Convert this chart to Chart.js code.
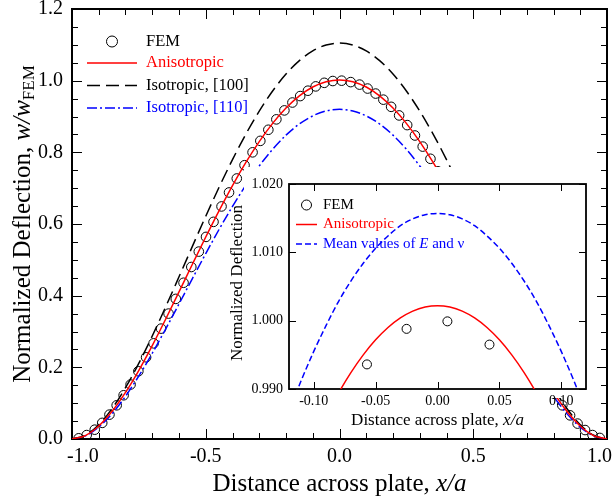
<!DOCTYPE html>
<html><head><meta charset="utf-8">
<script src="https://cdn.jsdelivr.net/npm/chart.js@4/dist/chart.umd.min.js"></script>
<style>
html,body{margin:0;padding:0;background:#fff;}
#wrap{position:relative;width:613px;height:499px;overflow:hidden;}
#wrap canvas{position:absolute;left:0;top:0;}
</style></head><body>
<div id="wrap"><canvas id="main" width="613" height="499"></canvas><canvas id="inset" width="613" height="499"></canvas></div>
<script>
// ---------- data ----------
const femX = [-0.975,-0.945,-0.915,-0.887,-0.860,-0.833,-0.807,-0.781,-0.752,-0.723,-0.695,-0.667,-0.639,-0.612,-0.583,-0.554,-0.526,-0.499,-0.471,-0.441,-0.413,-0.384,-0.355,-0.325,-0.296,-0.266,-0.236,-0.206,-0.176,-0.147,-0.118,-0.089,-0.057,-0.025,0.008,0.042,0.075,0.105,0.135,0.164,0.193,0.223,0.253,0.282,0.311,0.340,0.368,0.397,0.426,0.455,0.484,0.513,0.542,0.571,0.600,0.629,0.658,0.687,0.716,0.745,0.774,0.803,0.833,0.862,0.890,0.918,0.946,0.973];
const femY = [0.002,0.011,0.026,0.045,0.068,0.094,0.122,0.152,0.189,0.228,0.267,0.308,0.350,0.391,0.436,0.480,0.523,0.564,0.606,0.649,0.688,0.727,0.764,0.800,0.832,0.863,0.892,0.917,0.939,0.957,0.972,0.984,0.994,0.999,1.000,0.996,0.989,0.978,0.964,0.947,0.927,0.903,0.876,0.847,0.816,0.782,0.747,0.710,0.670,0.629,0.586,0.543,0.499,0.454,0.410,0.365,0.322,0.279,0.238,0.198,0.161,0.126,0.094,0.066,0.043,0.025,0.011,0.003];

const lineX = [-1.00,-0.95,-0.90,-0.85,-0.80,-0.75,-0.70,-0.65,-0.60,-0.55,-0.50,-0.45,-0.40,-0.35,-0.30,-0.25,-0.20,-0.15,-0.10,-0.05,0.00,0.05,0.10,0.15,0.20,0.25,0.30,0.35,0.40,0.45,0.50,0.55,0.60,0.65,0.70,0.75,0.80,0.85,0.90,0.95,1.00];
const anisoY = [0,0.0095,0.0362,0.0772,0.1299,0.1918,0.2607,0.3342,0.4105,0.4876,0.5637,0.6374,0.7072,0.7717,0.8299,0.8808,0.9236,0.9576,0.9823,0.9972,1.0022,0.9972,0.9823,0.9576,0.9236,0.8808,0.8299,0.7717,0.7072,0.6374,0.5637,0.4876,0.4105,0.3342,0.2607,0.1918,0.1299,0.0772,0.0362,0.0095,0];
const iso100Y = [0,0.0105,0.0399,0.0851,0.1432,0.2115,0.2874,0.3685,0.4526,0.5376,0.6216,0.7028,0.7797,0.8509,0.9151,0.9712,1.0184,1.0558,1.0830,1.0995,1.1050,1.0995,1.0830,1.0558,1.0184,0.9712,0.9151,0.8509,0.7797,0.7028,0.6216,0.5376,0.4526,0.3685,0.2874,0.2115,0.1432,0.0851,0.0399,0.0105,0];
const iso110Y = [0,0.0087,0.0332,0.0708,0.1192,0.1761,0.2393,0.3068,0.3768,0.4476,0.5175,0.5851,0.6492,0.7084,0.7619,0.8086,0.8479,0.8791,0.9017,0.9154,0.9200,0.9154,0.9017,0.8791,0.8479,0.8086,0.7619,0.7084,0.6492,0.5851,0.5175,0.4476,0.3768,0.3068,0.2393,0.1761,0.1192,0.0708,0.0332,0.0087,0];

const mainXTicks = [-1.0,-0.5,0.0,0.5,1.0];
const mainXLabels = ['-1.0','-0.5','0.0','0.5','1.0'];
const mainYTicks = [0.0,0.2,0.4,0.6,0.8,1.0,1.2];
const mainYLabels = ['0.0','0.2','0.4','0.6','0.8','1.0','1.2'];

const insetFemX = [-0.057,-0.025,0.008,0.042];
const insetFemY = [0.9936,0.9988,0.9999,0.9965];
const insetX = [-0.12,-0.11,-0.10,-0.09,-0.08,-0.07,-0.06,-0.05,-0.04,-0.03,-0.02,-0.01,0.00,0.01,0.02,0.03,0.04,0.05,0.06,0.07,0.08,0.09,0.10,0.11,0.12];
const insetAnisoY = [0.9736,0.9781,0.9823,0.9860,0.9894,0.9924,0.9950,0.9972,0.9990,1.0004,1.0014,1.0020,1.0022,1.0020,1.0014,1.0004,0.9990,0.9972,0.9950,0.9924,0.9894,0.9860,0.9823,0.9781,0.9736];
const insetMeanY = [0.9867,0.9913,0.9955,0.9993,1.0028,1.0058,1.0084,1.0106,1.0124,1.0139,1.0149,1.0155,1.0157,1.0155,1.0149,1.0139,1.0124,1.0106,1.0084,1.0058,1.0028,0.9993,0.9955,0.9913,0.9867];

const insetXTicks = [-0.10,-0.05,0.00,0.05,0.10];
const insetXLabels = ['-0.10','-0.05','0.00','0.05','0.10'];
const insetYTicks = [0.990,1.000,1.010,1.020];
const insetYLabels = ['0.990','1.000','1.010','1.020'];

// ---------- helpers ----------
const SERIF = '"Liberation Serif","Times New Roman",serif';
const RED = '#ff0000', BLUE = '#0000ff', BLACK = '#000000';
function pts(xs, ys){ return xs.map((x,i)=>({x:x, y:ys[i]})); }
function drawRich(ctx, parts, x, y, align){
  let w = 0;
  parts.forEach(p=>{ ctx.font = p.font; p.w = ctx.measureText(p.t).width; w += p.w; });
  let cx = align==='center' ? x - w/2 : (align==='right' ? x - w : x);
  ctx.textAlign = 'left';
  parts.forEach(p=>{ ctx.font = p.font; ctx.fillStyle = p.color || BLACK; ctx.fillText(p.t, cx, y + (p.dy||0)); cx += p.w; });
}
function line(ctx,x1,y1,x2,y2){ ctx.beginPath(); ctx.moveTo(x1,y1); ctx.lineTo(x2,y2); ctx.stroke(); }

// ---------- main chart ----------
const mainDeco = {
  id: 'mainDeco',
  beforeDatasetsDraw(chart){
    const ctx = chart.ctx, a = chart.chartArea, xs = chart.scales.x, ys = chart.scales.y;
    ctx.save();
    ctx.strokeStyle = BLACK; ctx.lineWidth = 1;
    for (let k=-10;k<=10;k++){
      const px = Math.round(xs.getPixelForValue(k/10)) + 0.5;
      const L = (k%5===0) ? 10 : 6;
      line(ctx, px, a.bottom, px, a.bottom - L);
      line(ctx, px, a.top, px, a.top + L);
    }
    for (let k=0;k<=24;k++){
      const py = Math.round(ys.getPixelForValue(k*0.05)) + 0.5;
      const L = (k%4===0) ? 10 : 6;
      line(ctx, a.left, py, a.left + L, py);
      line(ctx, a.right, py, a.right - L, py);
    }
    ctx.lineWidth = 2;
    ctx.strokeRect(a.left, a.top, a.right - a.left, a.bottom - a.top);
    ctx.restore();
  },
  afterDraw(chart){
    const ctx = chart.ctx, a = chart.chartArea, xs = chart.scales.x, ys = chart.scales.y;
    ctx.save();
    ctx.fillStyle = BLACK;
    ctx.font = '20px ' + SERIF;
    ctx.textBaseline = 'alphabetic';
    mainXTicks.forEach((v,i)=>{
      const px = xs.getPixelForValue(v);
      const w = ctx.measureText(mainXLabels[i]).width;
      let left = px - w/2;
      if (left < 67) left = 67;
      if (left + w > 612) left = 612 - w;
      ctx.textAlign = 'left';
      ctx.fillText(mainXLabels[i], left, 462);
    });
    ctx.textBaseline = 'middle';
    ctx.textAlign = 'right';
    mainYTicks.forEach((v,i)=>{
      ctx.fillText(mainYLabels[i], 63, ys.getPixelForValue(v));
    });
    // axis titles
    ctx.textBaseline = 'alphabetic';
    drawRich(ctx, [
      {t:'Distance across plate, ', font:'25px ' + SERIF},
      {t:'x/a', font:'italic 25px ' + SERIF}
    ], (a.left + a.right)/2, 491, 'center');
    ctx.save();
    ctx.translate(30, (a.top + a.bottom)/2);
    ctx.rotate(-Math.PI/2);
    drawRich(ctx, [
      {t:'Normalized Deflection, ', font:'25px ' + SERIF},
      {t:'w/w', font:'italic 25px ' + SERIF},
      {t:'FEM', font:'17px ' + SERIF, dy:4}
    ], 0, 0, 'center');
    ctx.restore();
    // legend
    ctx.textBaseline = 'middle';
    const lf = '16.5px ' + SERIF;
    ctx.lineWidth = 1; ctx.strokeStyle = BLACK;
    ctx.beginPath(); ctx.arc(112, 41.5, 5.5, 0, Math.PI*2); ctx.stroke();
    drawRich(ctx, [{t:'FEM', font:lf, color:BLACK}], 146, 41.5, 'left');
    ctx.lineWidth = 1.5;
    ctx.strokeStyle = RED; ctx.setLineDash([]);
    line(ctx, 87, 63, 137, 63);
    drawRich(ctx, [{t:'Anisotropic', font:lf, color:RED}], 146, 63, 'left');
    ctx.strokeStyle = BLACK; ctx.setLineDash([13,6]);
    line(ctx, 87, 85.5, 137, 85.5);
    drawRich(ctx, [{t:'Isotropic, [100]', font:lf, color:BLACK}], 146, 85.5, 'left');
    ctx.strokeStyle = BLUE; ctx.setLineDash([10,3,2,3]);
    line(ctx, 87, 108, 137, 108);
    drawRich(ctx, [{t:'Isotropic, [110]', font:lf, color:BLUE}], 146, 108, 'left');
    ctx.restore();
  }
};

new Chart(document.getElementById('main'), {
  type: 'scatter',
  data: { datasets: [
    { label:'FEM', data: pts(femX, femY), showLine:false, pointStyle:'circle', pointRadius:4.8, pointHoverRadius:4.8,
      pointBorderColor:BLACK, pointBackgroundColor:'rgba(0,0,0,0)', pointBorderWidth:1, order:4 },
    { label:'Anisotropic', data: pts(lineX, anisoY), showLine:true, borderColor:RED, borderWidth:1.5,
      pointRadius:0, pointHoverRadius:0, cubicInterpolationMode:'monotone', order:1 },
    { label:'Isotropic, [100]', data: pts(lineX, iso100Y), showLine:true, borderColor:BLACK, borderWidth:1.5,
      borderDash:[13,6], pointRadius:0, pointHoverRadius:0, cubicInterpolationMode:'monotone', order:2 },
    { label:'Isotropic, [110]', data: pts(lineX, iso110Y), showLine:true, borderColor:BLUE, borderWidth:1.5,
      borderDash:[10,3,2,3], pointRadius:0, pointHoverRadius:0, cubicInterpolationMode:'monotone', order:3 }
  ]},
  options: {
    responsive:false, animation:false, devicePixelRatio:1, events:[],
    layout:{ padding:{ left:72, right:6, top:9, bottom:60 } },
    plugins:{ legend:{display:false}, tooltip:{enabled:false} },
    scales:{
      x:{ type:'linear', min:-1, max:1, display:false },
      y:{ type:'linear', min:0, max:1.2, display:false }
    }
  },
  plugins:[mainDeco]
});

// ---------- inset chart ----------
const insetDeco = {
  id:'insetDeco',
  beforeDraw(chart){
    const ctx = chart.ctx;
    ctx.save();
    ctx.fillStyle = '#ffffff';
    ctx.fillRect(244, 167, 346, 231);
    ctx.restore();
  },
  beforeDatasetsDraw(chart){
    const ctx = chart.ctx, a = chart.chartArea, xs = chart.scales.x, ys = chart.scales.y;
    ctx.save();
    ctx.strokeStyle = BLACK; ctx.lineWidth = 1;
    insetXTicks.forEach(v=>{
      const px = Math.round(xs.getPixelForValue(v)) + 0.5;
      line(ctx, px, a.bottom, px, a.bottom - 7);
      line(ctx, px, a.top, px, a.top + 7);
    });
    insetYTicks.forEach(v=>{
      const py = Math.round(ys.getPixelForValue(v)) + 0.5;
      line(ctx, a.left, py, a.left + 7, py);
      line(ctx, a.right, py, a.right - 7, py);
    });
    ctx.lineWidth = 1.8;
    ctx.strokeRect(a.left, a.top, a.right - a.left, a.bottom - a.top);
    ctx.restore();
  },
  afterDraw(chart){
    const ctx = chart.ctx, a = chart.chartArea, xs = chart.scales.x, ys = chart.scales.y;
    ctx.save();
    ctx.fillStyle = BLACK;
    ctx.font = '14px ' + SERIF;
    ctx.textBaseline = 'alphabetic'; ctx.textAlign = 'center';
    insetXTicks.forEach((v,i)=>{ ctx.fillText(insetXLabels[i], xs.getPixelForValue(v), 405); });
    ctx.textBaseline = 'middle'; ctx.textAlign = 'right';
    insetYTicks.forEach((v,i)=>{ ctx.fillText(insetYLabels[i], 283, ys.getPixelForValue(v)); });
    ctx.textBaseline = 'alphabetic';
    drawRich(ctx, [
      {t:'Distance across plate, ', font:'17px ' + SERIF},
      {t:'x/a', font:'italic 17px ' + SERIF}
    ], (a.left + a.right)/2, 425, 'center');
    ctx.save();
    ctx.translate(241.5, 283);
    ctx.rotate(-Math.PI/2);
    drawRich(ctx, [{t:'Normalized Deflection', font:'17px ' + SERIF}], 0, 0, 'center');
    ctx.restore();
    // legend
    const lf = '15px ' + SERIF;
    ctx.textBaseline = 'middle';
    ctx.lineWidth = 1; ctx.strokeStyle = BLACK;
    ctx.beginPath(); ctx.arc(306.5, 205, 5, 0, Math.PI*2); ctx.stroke();
    drawRich(ctx, [{t:'FEM', font:lf}], 323, 205, 'left');
    ctx.lineWidth = 1.5; ctx.strokeStyle = RED;
    line(ctx, 296, 224.5, 317, 224.5);
    drawRich(ctx, [{t:'Anisotropic', font:lf, color:RED}], 323, 224.5, 'left');
    ctx.strokeStyle = BLUE; ctx.setLineDash([6,3]);
    line(ctx, 296, 244, 317, 244);
    drawRich(ctx, [
      {t:'Mean values of ', font:lf, color:BLUE},
      {t:'E', font:'italic 15px ' + SERIF, color:BLUE},
      {t:' and \u03BD', font:lf, color:BLUE}
    ], 323, 244, 'left');
    ctx.restore();
  }
};

new Chart(document.getElementById('inset'), {
  type:'scatter',
  data:{ datasets:[
    { label:'FEM', data: pts(insetFemX, insetFemY), showLine:false, pointStyle:'circle', pointRadius:4.5, pointHoverRadius:4.5,
      pointBorderColor:BLACK, pointBackgroundColor:'rgba(0,0,0,0)', pointBorderWidth:1, order:3 },
    { label:'Anisotropic', data: pts(insetX, insetAnisoY), showLine:true, borderColor:RED, borderWidth:1.5,
      pointRadius:0, pointHoverRadius:0, cubicInterpolationMode:'monotone', order:1 },
    { label:'Mean values of E and \u03BD', data: pts(insetX, insetMeanY), showLine:true, borderColor:BLUE, borderWidth:1.5,
      borderDash:[6,3], pointRadius:0, pointHoverRadius:0, cubicInterpolationMode:'monotone', order:2 }
  ]},
  options:{
    responsive:false, animation:false, devicePixelRatio:1, events:[],
    layout:{ padding:{ left:289, right:27, top:184, bottom:110 } },
    plugins:{ legend:{display:false}, tooltip:{enabled:false} },
    scales:{
      x:{ type:'linear', min:-0.12, max:0.12, display:false },
      y:{ type:'linear', min:0.990, max:1.020, display:false }
    }
  },
  plugins:[insetDeco]
});
</script>
</body></html>
